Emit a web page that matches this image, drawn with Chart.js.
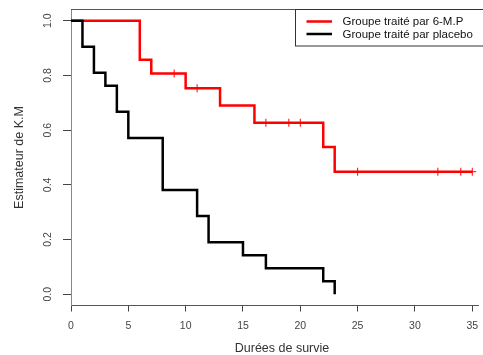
<!DOCTYPE html>
<html>
<head>
<meta charset="utf-8">
<script src="https://cdn.jsdelivr.net/npm/chart.js@4/dist/chart.umd.min.js"></script>
<style>
  html, body { margin: 0; padding: 0; background: #fff; overflow: hidden; }
  #wrap { width: 483px; height: 355px; }
</style>
</head>
<body>
<div id="wrap"><canvas id="km" width="483" height="355"></canvas></div>
<script>
// Kaplan-Meier survival estimates (leukaemia remission data)
const timesMP = [0, 6, 7, 10, 13, 16, 22, 23, 35];
const survMP  = [1.0, 0.857, 0.807, 0.753, 0.690, 0.627, 0.538, 0.448, 0.448];
// censored times marked on the curve (no event at the same time)
const censorMP = [9, 11, 17, 19, 20, 25, 32, 34, 35];

const timesPl = [0, 1, 2, 3, 4, 5, 8, 11, 12, 15, 17, 22, 23];
const survPl  = [1.0, 0.905, 0.810, 0.762, 0.667, 0.571, 0.381, 0.286, 0.190, 0.143, 0.095, 0.048, 0.0];

const xTicks = [0, 5, 10, 15, 20, 25, 30, 35];
const yTicks = [0.0, 0.2, 0.4, 0.6, 0.8, 1.0];

const legendLabels = ['Groupe traité par 6-M.P', 'Groupe traité par placebo'];
const seriesColors = ['#ff0000', '#000000'];
const xTitle = 'Durées de survie';
const yTitle = 'Estimateur de K.M';

const FONT = '"Liberation Sans", Arial, Helvetica, sans-serif';

// survival value in effect at time t (right-continuous step function)
function stepValue(times, surv, t) {
  let v = surv[0];
  for (let i = 0; i < times.length; i++) if (times[i] <= t) v = surv[i];
  return v;
}

const pts = (xs, ys) => xs.map((x, i) => ({ x: x, y: ys[i] }));

const extras = {
  id: 'extras',
  afterDatasetsDraw(chart) {
    const ctx = chart.ctx;
    const { left, top, right, bottom } = chart.chartArea;
    const ys = chart.scales.y;
    ctx.save();
    // top edge of the plot frame
    ctx.strokeStyle = '#555';
    ctx.lineWidth = 1;
    ctx.beginPath();
    ctx.moveTo(left, top);
    ctx.lineTo(right, top);
    ctx.stroke();

    // y tick labels, rotated like the axis
    ctx.fillStyle = '#444';
    ctx.font = '10.5px ' + FONT;
    ctx.textAlign = 'center';
    ctx.textBaseline = 'middle';
    yTicks.forEach(v => {
      const y = ys.getPixelForValue(v);
      ctx.save();
      ctx.translate(48, y);
      ctx.rotate(-Math.PI / 2);
      ctx.fillText(v.toFixed(1), 0, 0);
      ctx.restore();
    });

    // axis titles
    ctx.fillStyle = '#333';
    ctx.font = '12.5px ' + FONT;
    ctx.save();
    ctx.translate(20, (top + bottom) / 2);
    ctx.rotate(-Math.PI / 2);
    ctx.fillText(yTitle, 0, 0);
    ctx.restore();
    ctx.fillText(xTitle, 282, 349);

    // legend box
    const bx = 295.5, by = 9.5, bw = 200, bh = 36.5;
    ctx.fillStyle = '#fff';
    ctx.fillRect(bx, by, bw, bh);
    ctx.strokeStyle = '#333';
    ctx.strokeRect(bx, by, bw, bh);
    const rows = [21.5, 34];
    ctx.font = '11.5px ' + FONT;
    ctx.textAlign = 'left';
    legendLabels.forEach((lab, i) => {
      ctx.strokeStyle = seriesColors[i];
      ctx.lineWidth = 2.5;
      ctx.beginPath();
      ctx.moveTo(306.5, rows[i]);
      ctx.lineTo(332, rows[i]);
      ctx.stroke();
      ctx.fillStyle = '#111';
      ctx.fillText(lab, 342.5, rows[i] + 0.5);
    });
    ctx.restore();
  }
};

new Chart(document.getElementById('km'), {
  type: 'line',
  data: {
    datasets: [
      {
        label: legendLabels[0],
        data: pts(timesMP, survMP),
        borderColor: seriesColors[0],
        borderWidth: 2.5,
        stepped: 'before',
        pointRadius: 0,
        fill: false,
        order: 3
      },
      {
        type: 'scatter',
        label: 'censure 6-M.P',
        data: censorMP.map(t => ({ x: t, y: stepValue(timesMP, survMP, t) })),
        pointStyle: 'cross',
        pointRadius: 4,
        pointBorderWidth: 1,
        borderColor: seriesColors[0],
        backgroundColor: seriesColors[0],
        showLine: false,
        order: 2
      },
      {
        label: legendLabels[1],
        data: pts(timesPl, survPl),
        borderColor: seriesColors[1],
        borderWidth: 2.5,
        stepped: 'before',
        pointRadius: 0,
        fill: false,
        order: 1
      }
    ]
  },
  options: {
    responsive: false,
    devicePixelRatio: 1,
    animation: false,
    events: [],
    layout: { padding: { top: 9.5, left: 0, right: 0, bottom: 0 } },
    plugins: { legend: { display: false }, tooltip: { enabled: false } },
    scales: {
      x: {
        type: 'linear',
        min: 0,
        max: 35.5,
        afterBuildTicks: s => { s.ticks = xTicks.map(v => ({ value: v })); },
        afterFit: s => { s.height = 49.5; s.paddingLeft = 0; s.paddingRight = 0; },
        grid: { display: true, drawOnChartArea: false, drawTicks: true, tickLength: 6, color: '#444', lineWidth: 1 },
        border: { display: true, color: '#555', width: 1 },
        ticks: {
          color: '#444',
          font: { family: FONT, size: 10.5 },
          padding: 8,
          maxRotation: 0,
          autoSkip: false,
          callback: v => String(v)
        }
      },
      y: {
        type: 'linear',
        min: -0.041,
        max: 1.041,
        afterBuildTicks: s => { s.ticks = yTicks.map(v => ({ value: v })); },
        afterFit: s => { s.width = 71; s.paddingTop = 0; s.paddingBottom = 0; },
        grid: { display: true, drawOnChartArea: false, drawTicks: true, tickLength: 8, color: '#444', lineWidth: 1 },
        border: { display: true, color: '#888', width: 1 },
        ticks: { display: false }
      }
    }
  },
  plugins: [extras]
});
</script>
</body>
</html>
